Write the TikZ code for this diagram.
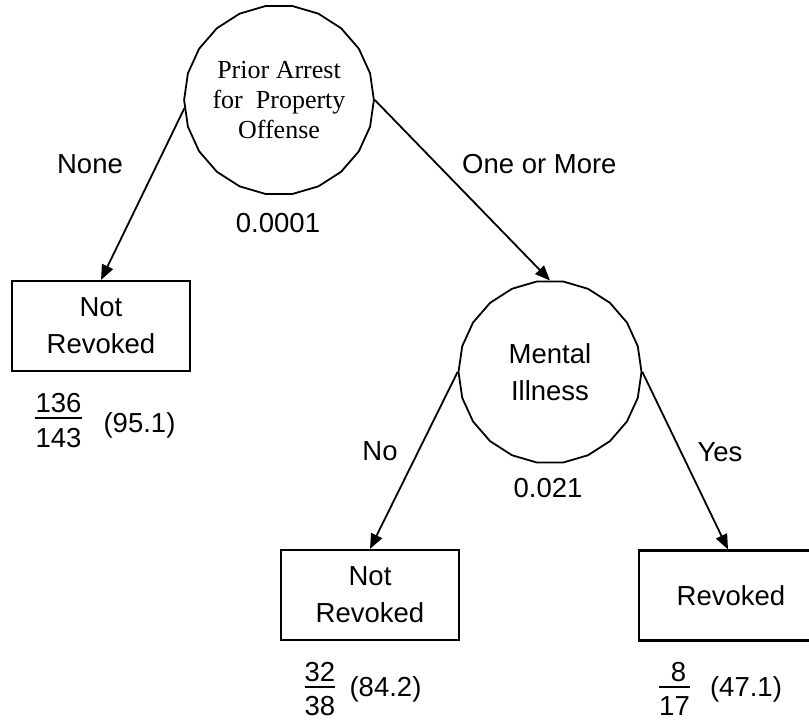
\documentclass[tikz,border=0pt]{standalone}
\usepackage{fontspec}
\setmainfont{Liberation Sans}
\newfontfamily\timesfont{Liberation Serif}
\usetikzlibrary{arrows.meta,shapes.geometric,calc}
\begin{document}
\begin{tikzpicture}[x=1pt,y=-1pt,
  every node/.style={font=\fontsize{27.5}{37}\selectfont, inner sep=0pt},
  split/.style={draw, line width=1.8pt, regular polygon, regular polygon sides=22,
    minimum size=183pt, align=center},
  leaf/.style={draw, line width=2.2pt, rectangle, minimum width=178pt,
    minimum height=90pt, align=center},
  arr/.style={line width=1.8pt, -{Triangle[length=15pt,width=12pt]}},
  lbl/.style={anchor=base},
  bar/.style={line width=2pt}
]
\useasboundingbox (0,0) rectangle (809,721);
\clip (0,0) rectangle (809,721);

% decision nodes
\node[split, font=\timesfont\fontsize{26}{30}\selectfont] (prior) at (279,100)
  {Prior Arrest\\for\ \ Property\\Offense};
\node[split] (mental) at (550,372) {Mental\\Illness};

% outcome boxes (the right one runs past the page edge)
\node[leaf] (leafA) at (101,326) {Not\\Revoked};
\node[leaf] (leafB) at (370,595) {Not\\Revoked};
\node[leaf, minimum width=184pt] (leafC) at (731,595.5) {Revoked};

% branches
\draw[arr] (prior.185) -- (leafA.north);
\draw[arr] (prior.east) -- (mental.north);
\draw[arr] (mental.west) -- (leafB.north);
\draw[arr] (mental.east) -- ($(leafC.north)+(-3,0)$);

% branch labels and p-values
\node[lbl] (tNone) at (90,173) {None};
\node[lbl,anchor=base west] (tMore) at (462,173) {One or More};
\node[lbl] (pA) at (278,232) {0.0001};
\node[lbl] (tNo) at (380,460) {No};
\node[lbl] (tYes) at (720,461) {Yes};
\node[lbl] (pB) at (548,497) {0.021};

% counts and percentages
\node[lbl] (fAn) at (58.5,412) {136};
\node[lbl] (fAd) at (58.5,447) {143};
\draw[bar] ($(fAd.west |- fAn.base)+(0,6)$) -- ($(fAd.east |- fAn.base)+(0,6)$);
\node[lbl] (pctA) at (139.5,432) {(95.1)};

\node[lbl] (fBn) at (320,681) {32};
\node[lbl] (fBd) at (320,715.5) {38};
\draw[bar] ($(fBd.west |- fBn.base)+(0,6)$) -- ($(fBd.east |- fBn.base)+(0,6)$);
\node[lbl] (pctB) at (385.5,696) {(84.2)};

\node[lbl] (fCn) at (678.5,681) {8};
\node[lbl] (fCd) at (674.5,715.5) {17};
\draw[bar] ($(fCd.west |- fCn.base)+(0,6)$) -- ($(fCd.east |- fCn.base)+(0,6)$);
\node[lbl] (pctC) at (746,696) {(47.1)};
\end{tikzpicture}
\end{document}
